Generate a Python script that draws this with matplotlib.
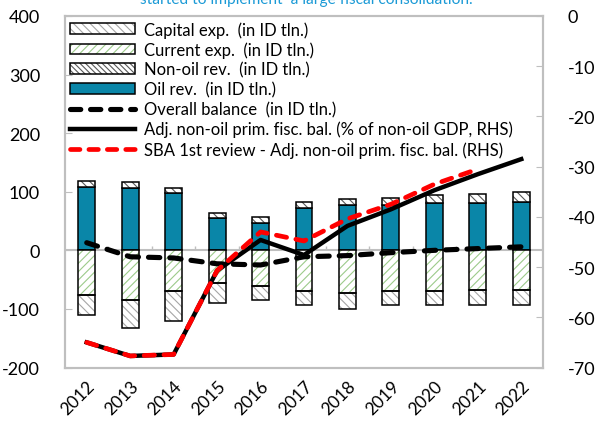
import numpy as np
import matplotlib
matplotlib.use('Agg')
import matplotlib.pyplot as plt
from matplotlib.patches import Patch
from matplotlib.lines import Line2D

plt.rcParams['font.family'] = ['Lato', 'DejaVu Sans']
plt.rcParams['hatch.linewidth'] = 0.8
plt.rcParams['axes.unicode_minus'] = False

years = ['2012', '2013', '2014', '2015', '2016', '2017', '2018', '2019', '2020', '2021', '2022']

# ID tln (left axis)
oil_rev     = [108, 106, 98, 56, 46, 72, 77, 77, 80, 81, 83]
nonoil_rev  = [11, 10, 8, 8, 11, 11, 10, 13, 14, 16, 17]
current_exp = [-77, -84, -70, -56, -61, -70, -73, -70, -70, -67, -67]
capital_exp = [-33, -48, -50, -34, -23, -23, -27, -23, -23, -26, -26]
overall_bal = [13, -11, -13, -23, -25, -11, -9, -4, 0, 3, 6]

# % of non-oil GDP (right axis)
adj_nonoil = [-65, -67.7, -67.4, -50.7, -44.6, -47.6, -41.8, -38.5, -34.7, -31.5, -28.5]
sba_review = [-65, -67.7, -67.4, -50.7, -43, -44.8, -40.4, -37.5, -33.5, -30.5]

teal = '#0A86A8'
frame_gray = '#BFBFBF'
cap_hatch = '#A6A6A6'
cur_hatch = '#9CCB8A'
non_hatch = '#595959'

fig = plt.figure(figsize=(5.96, 4.31), dpi=100)
ax = fig.add_axes([65/596, 1 - 368.5/431, 478/596, 351.5/431])
ax2 = ax.twinx()

x = np.arange(len(years))
w = 0.39

# zero line with small category separators
ax.axhline(0, color=frame_gray, lw=1.5, zorder=1)
ax.vlines(x[:-1] + 0.5, 0, 8, color=frame_gray, lw=1.0, zorder=1)

ax.bar(x, oil_rev, w, color=teal, edgecolor='black', lw=1.1, zorder=2)
# hatch colour differs from the outline, so draw the hatch then the outline
ax.bar(x, nonoil_rev, w, bottom=oil_rev, color='white', edgecolor=non_hatch, lw=0,
       hatch='\\\\\\\\', zorder=2)
ax.bar(x, nonoil_rev, w, bottom=oil_rev, fill=False, edgecolor='black', lw=1.1, zorder=3)
ax.bar(x, current_exp, w, color='white', edgecolor=cur_hatch, lw=0, hatch='////', zorder=2)
ax.bar(x, current_exp, w, fill=False, edgecolor='black', lw=1.1, zorder=3)
ax.bar(x, capital_exp, w, bottom=current_exp, color='white', edgecolor=cap_hatch,
       lw=0, hatch='\\\\\\\\', zorder=2)
ax.bar(x, capital_exp, w, bottom=current_exp, fill=False, edgecolor='black', lw=1.1, zorder=3)

ax.plot(x, overall_bal, color='black', lw=3.7, ls=(0, (2.2, 1.95)),
        dash_capstyle='round', zorder=4)

ax2.plot(x, adj_nonoil, color='black', lw=3.2, zorder=5)
ax2.plot(x[:len(sba_review)], sba_review, color='#FF0000', lw=3.4, ls=(0, (2.2, 2.0)),
         dash_capstyle='round', zorder=6)

ax.set_xlim(-0.5, len(years) - 0.5)
ax.set_ylim(-200, 400)
ax.set_yticks(range(-200, 401, 100))
ax2.set_ylim(-70, 0)
ax2.set_yticks(range(-70, 1, 10))

ax.set_xticks(x)
ax.set_xticklabels(years, rotation=45, ha='right', rotation_mode='anchor', fontsize=12.5)
ax.tick_params(axis='x', length=0, pad=7)
ax.tick_params(axis='y', direction='in', length=5, color=frame_gray, labelsize=13, pad=18)
ax2.tick_params(axis='y', direction='in', length=5, color=frame_gray, labelsize=13, pad=18)

for a in (ax, ax2):
    for s in a.spines.values():
        s.set_color(frame_gray)
        s.set_linewidth(1.5)

def hatched(hcolor, hatch):
    return (Patch(facecolor='white', edgecolor=hcolor, hatch=hatch, lw=0),
            Patch(fill=False, edgecolor='black', lw=1.1))

handles = [
    hatched(cap_hatch, '\\\\\\\\'),
    hatched(cur_hatch, '////'),
    hatched(non_hatch, '\\\\\\\\\\\\'),
    Patch(facecolor=teal, edgecolor='black', lw=1.1),
    Line2D([], [], color='black', lw=3.7, ls=(0, (2.0, 1.9)), dash_capstyle='round'),
    Line2D([], [], color='black', lw=3.2),
    Line2D([], [], color='#FF0000', lw=3.4, ls=(0, (2.0, 1.9)), dash_capstyle='round'),
]
labels = [
    'Capital exp.  (in ID tln.)',
    'Current exp.  (in ID tln.)',
    'Non-oil rev.  (in ID tln.)',
    'Oil rev.  (in ID tln.)',
    'Overall balance  (in ID tln.)',
    'Adj. non-oil prim. fisc. bal. (% of non-oil GDP, RHS)',
    'SBA 1st review - Adj. non-oil prim. fisc. bal. (RHS)',
]
leg = ax2.legend(handles, labels, loc='upper left', bbox_to_anchor=(0.0, 1.0),
                 fontsize=12, frameon=False, borderaxespad=0.0, borderpad=0.3,
                 handlelength=3.9, handleheight=0.6, handletextpad=0.55,
                 labelspacing=0.22)

fig.text(140/596, 1 - 4/431, 'started to implement  a large fiscal consolidation.',
         color='#1B9AD6', fontsize=11.2, ha='left', va='baseline')

fig.savefig('out.png', dpi=100)
